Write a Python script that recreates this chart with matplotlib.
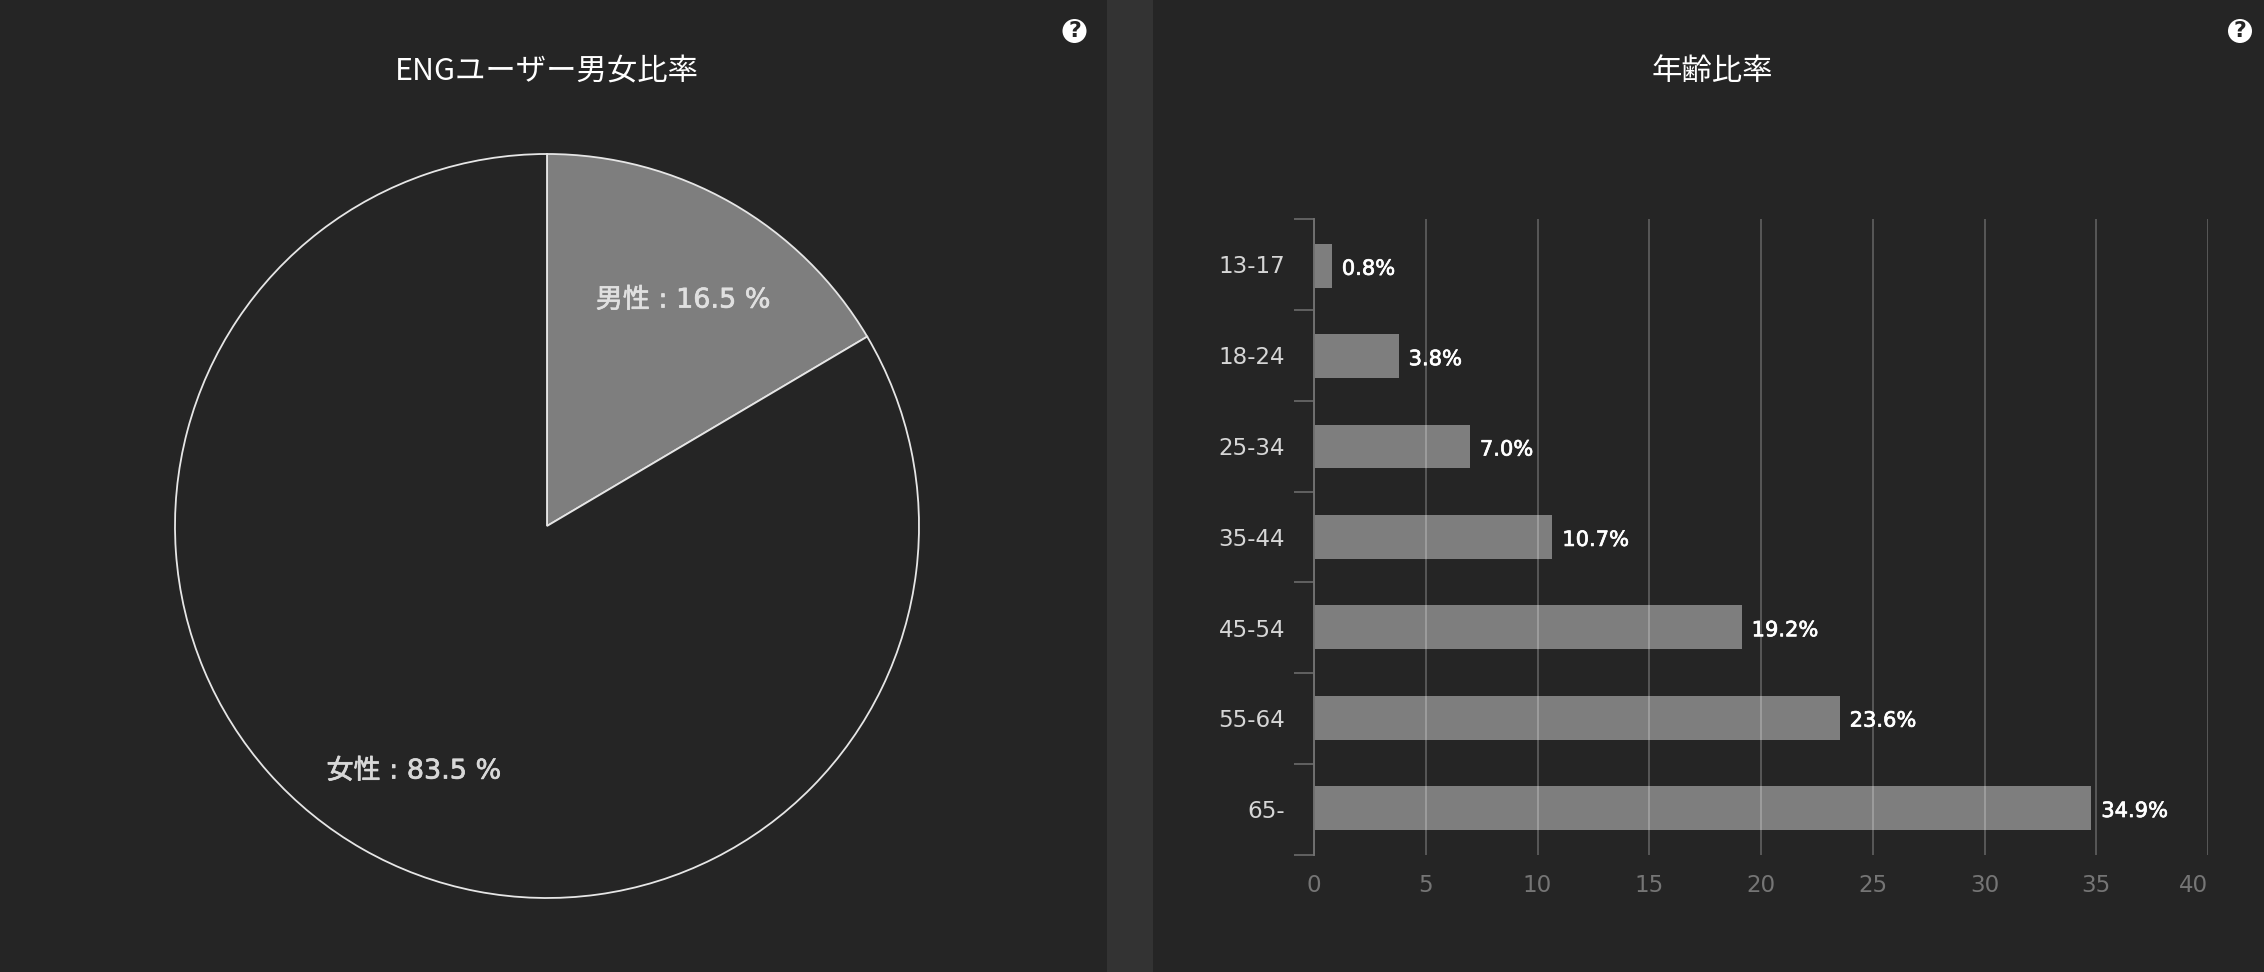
import numpy as np
import matplotlib
matplotlib.use("Agg")
import matplotlib.pyplot as plt
import matplotlib.patheffects as pe
from matplotlib.patches import Circle, Rectangle
from matplotlib.transforms import ScaledTranslation

# latin glyphs in the picture are wide, DejaVu is the closest one here
LATIN_FIRST = ['DejaVu Sans', 'Noto Sans CJK JP']
plt.rcParams['font.family'] = LATIN_FIRST

W, H = 2264, 972
BG = '#252525'

gender_labels = ['男性', '女性']
gender_values = [16.5, 83.5]

age_labels = ['13-17', '18-24', '25-34', '35-44', '45-54', '55-64', '65-']
age_values = [0.8, 3.8, 7.0, 10.7, 19.2, 23.6, 34.9]
x_ticks = [0, 5, 10, 15, 20, 25, 30, 35, 40]


def px(size):
    # font sizes are read in pixels from the picture
    return size * 72 / 100


def box(left, top, right, bottom):
    return [left / W, 1 - bottom / H, (right - left) / W, (bottom - top) / H]


def thicken(color, width=0.5):
    return [pe.withStroke(linewidth=width, foreground=color)]


fig = plt.figure(figsize=(W / 100, H / 100), dpi=100, facecolor=BG)

# panel separator and help icons
fig.add_artist(Rectangle((1107 / W, 0), 46 / W, 1, transform=fig.transFigure, color='#333333', lw=0))
for cx in [1074.5, 2240]:
    icon = fig.add_axes(box(cx - 13, 18, cx + 13, 44))
    icon.set_xlim(-13, 13)
    icon.set_ylim(-13, 13)
    icon.axis('off')
    icon.add_patch(Circle((0, 0), 12, color='white', lw=0))
    icon.text(0, -0.3, '?', color=BG, fontsize=px(22), fontweight='bold', ha='center', va='center')

for cx, title in [(547, 'ENGユーザー男女比率'), (1712, '年齢比率')]:
    fig.text(cx / W, 1 - 72 / H, title, color='white', fontsize=px(30.4), ha='center', va='center',
             family='Noto Sans CJK JP')

# pie
R = 372
ax1 = fig.add_axes(box(547 - R * 1.05, 526 - R * 1.05, 547 + R * 1.05, 526 + R * 1.05))
ax1.pie(gender_values, startangle=90, counterclock=False, colors=['#7e7e7e', BG],
        wedgeprops=dict(edgecolor='#e6e6e6', linewidth=1.3))
ax1.set_xlim(-1.05, 1.05)
ax1.set_ylim(-1.05, 1.05)
ax1.text(0.366, 0.606, f'{gender_labels[0]} : {gender_values[0]} %', color='#e0e0e0', fontsize=px(27),
         ha='center', va='center', path_effects=thicken('#e0e0e0'))
ax1.text(-0.358, -0.66, f'{gender_labels[1]} : {gender_values[1]} %', color='#d8d8d8', fontsize=px(27),
         ha='center', va='center', path_effects=thicken('#d8d8d8'))

# bars sit on their own axes, their pitch and length in the picture differ a little from the frame
y = np.arange(len(age_labels))
ax_bar = fig.add_axes(box(1314, 219, 2208, 855))
ax_bar.set_facecolor('none')
ax_bar.axis('off')
ax_bar.barh(y, age_values, height=0.485, color='#7e7e7e')
ax_bar.set_xlim(0, 40.14)
ax_bar.set_ylim(6.52, -0.518)
for yi, v in zip(y, age_values):
    ax_bar.annotate(f'{v}%', (v, yi), xytext=(px(10), -px(3)), textcoords='offset points', color='white',
                    fontsize=px(21), ha='left', va='center', path_effects=thicken('white'))

# frame and grid on top
ax2 = fig.add_axes(box(1314, 219, 2208, 855), facecolor='none')
ax2.set_xlim(0, 40)
ax2.set_ylim(len(age_labels) - 0.5, -0.5)
ax2.set_xticks(x_ticks)
ax2.set_yticks(y)
ax2.set_yticklabels(age_labels)
ax2.set_yticks(np.arange(len(age_labels) + 1) - 0.5, minor=True)
ax2.tick_params(axis='y', which='major', length=0, pad=px(29), labelsize=px(23), labelcolor='#d6d6d6')
ax2.tick_params(axis='y', which='minor', length=px(20), width=1.3, color='#666666')
ax2.tick_params(axis='x', length=0, pad=px(19), labelsize=px(23), labelcolor='#757575')
ax2.get_xticklabels()[-1].set_ha('right')
shift_up = ScaledTranslation(0, 0.3 / 100, fig.dpi_scale_trans)
for label in ax2.get_yticklabels():
    label.set_transform(label.get_transform() + shift_up)
ax2.grid(axis='x', color='white', alpha=0.25, linewidth=1.3)
for name in ['top', 'right', 'bottom']:
    ax2.spines[name].set_visible(False)
ax2.spines['left'].set_color('#707070')
ax2.spines['left'].set_linewidth(1.4)

fig.savefig('out.png', dpi=100, facecolor=BG)
